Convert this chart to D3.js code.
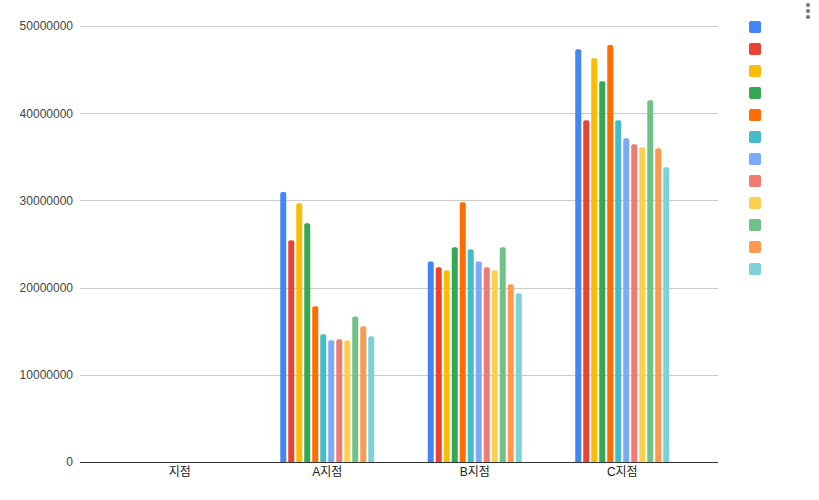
<!DOCTYPE html>
<html><head><meta charset="utf-8">
<script src="https://cdn.jsdelivr.net/npm/d3@7"></script>
<style>body{margin:0;background:#fff;}svg{display:block;}</style>
</head><body>
<script>
const categories = ["지점", "A지점", "B지점", "C지점"];
const seriesNames = ["", "", "", "", "", "", "", "", "", "", "", ""];
const colors = ["#4285F4","#EA4335","#FBBC04","#34A853","#FF6D01","#46BDC6","#7BAAF7","#F07B72","#FCD04F","#71C287","#FF994D","#7ED1D7"];
const valuesJijeom = [0,0,0,0,0,0,0,0,0,0,0,0];
const valuesA = [30950000,25420000,29670000,27370000,17850000,14640000,13950000,14070000,13950000,16700000,15560000,14410000];
const valuesB = [23000000,22330000,21980000,24620000,29780000,24390000,23000000,22330000,21980000,24620000,20380000,19350000];
const valuesC = [47330000,39180000,46290000,43660000,47820000,39180000,37120000,36430000,36090000,41480000,35970000,33800000];
const yTicks = [0,10000000,20000000,30000000,40000000,50000000];

const groups = [valuesJijeom, valuesA, valuesB, valuesC];
const W = 819, H = 500;
const svg = d3.select("body").append("svg").attr("width", W).attr("height", H);
const font = "Arial, 'Liberation Sans', 'Noto Sans CJK KR', sans-serif";

const plotL = 80, plotR = 718, plotT = 26, plotB = 462;
const y = d3.scaleLinear().domain([0, 50000000]).range([plotB, plotT]);
const x0 = d3.scaleBand().domain(categories).range([106, 696]).paddingInner(0).paddingOuter(0);
const groupW = 94;
const x1 = d3.scaleBand().domain(d3.range(seriesNames.length)).range([0, groupW]).paddingInner(0.25).paddingOuter(0);

// gridlines
svg.append("g").selectAll("line").data(yTicks.filter(d => d > 0)).join("line")
  .attr("x1", plotL).attr("x2", plotR)
  .attr("y1", d => Math.round(y(d)) + 0.5).attr("y2", d => Math.round(y(d)) + 0.5)
  .attr("stroke", "#cccccc").attr("stroke-width", 1);

// y labels
const yAxis = d3.axisLeft(y).tickValues(yTicks).tickSize(0).tickPadding(0).tickFormat(d3.format("d"));
const yg = svg.append("g").attr("transform", `translate(73,0)`).call(yAxis);
yg.select(".domain").remove();
yg.selectAll("text").attr("font-family", font).attr("font-size", 12).attr("fill", "#444");

// bars
const gg = svg.append("g").selectAll("g").data(categories).join("g")
  .attr("transform", (c) => `translate(${x0(c) + x0.bandwidth()/2 - groupW/2},0)`);
gg.each(function(c, gi) {
  const vals = groups[gi];
  d3.select(this).selectAll("path").data(vals.map((v, i) => ({v, i}))).join("path")
    .attr("fill", d => colors[d.i])
    .attr("d", d => {
      if (d.v <= 0) return "";
      const bx = x1(d.i), bw = x1.bandwidth(), top = y(d.v), bot = plotB, r = 2;
      return `M${bx},${bot}V${top + r}Q${bx},${top} ${bx + r},${top}H${bx + bw - r}Q${bx + bw},${top} ${bx + bw},${top + r}V${bot}Z`;
    });
});

// baseline
svg.append("line").attr("x1", plotL).attr("x2", plotR)
  .attr("y1", plotB + 0.5).attr("y2", plotB + 0.5).attr("stroke", "#333").attr("stroke-width", 1);

// x labels
const xAxis = d3.axisBottom(x0).tickSize(0).tickPadding(0);
const xg = svg.append("g").attr("transform", `translate(0,${plotB + 5})`).call(xAxis);
xg.select(".domain").remove();
xg.selectAll("text").attr("font-family", font).attr("font-size", 12).attr("fill", "#222").attr("dy", "0.71em");

// legend
const lg = svg.append("g").selectAll("g").data(seriesNames).join("g")
  .attr("transform", (d, i) => `translate(749,${21 + i * 22})`);
lg.append("rect").attr("width", 12).attr("height", 12).attr("rx", 2)
  .attr("fill", (d, i) => colors[i]);
lg.append("text").attr("x", 18).attr("y", 10).attr("font-family", font).attr("font-size", 12).attr("fill", "#222").text(d => d);

// menu dots
svg.append("g").selectAll("circle").data([5, 11, 17]).join("circle")
  .attr("cx", 808).attr("cy", d => d).attr("r", 2).attr("fill", "#757575");
</script>
</body></html>
